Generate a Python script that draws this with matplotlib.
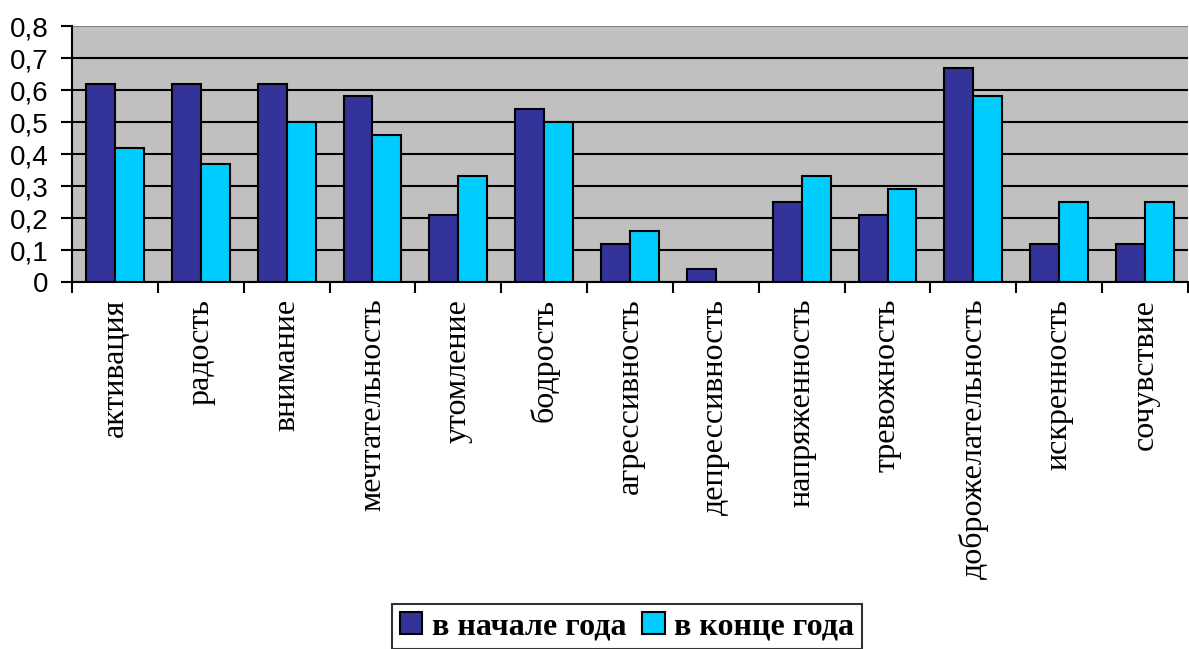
import matplotlib.pyplot as plt
import numpy as np
from matplotlib.ticker import FuncFormatter

categories = ['активация', 'радость', 'внимание', 'мечтательность', 'утомление',
              'бодрость', 'агрессивность', 'депрессивность', 'напряженность',
              'тревожность', 'доброжелательность', 'искренность', 'сочувствие']
start_year = [0.62, 0.62, 0.62, 0.58, 0.21, 0.54, 0.12, 0.04, 0.25, 0.21, 0.67, 0.12, 0.12]
end_year = [0.42, 0.37, 0.50, 0.46, 0.33, 0.50, 0.16, 0.0, 0.33, 0.29, 0.58, 0.25, 0.25]
series_names = ['в начале года', 'в конце года']

W, H = 1189, 649
fig = plt.figure(figsize=(W / 100, H / 100), dpi=100)
ax = fig.add_axes([72 / W, 1 - 282 / H, (1188 - 72) / W, (282 - 26) / H])
ax.set_facecolor('#C0C0C0')

x = np.arange(len(categories))
bw = 0.337
ax.bar(x - bw / 2, start_year, bw, color='#333399', edgecolor='black', linewidth=1.5,
       label=series_names[0], zorder=3)
end_heights = [v if v > 0 else np.nan for v in end_year]
ax.bar(x + bw / 2, end_heights, bw, color='#00CCFF', edgecolor='black', linewidth=1.5,
       label=series_names[1], zorder=3)

ax.set_xlim(-0.5, len(categories) - 0.5)
ax.set_ylim(0, 0.8)
ax.set_yticks(np.arange(0, 0.81, 0.1))
ax.yaxis.set_major_formatter(FuncFormatter(
    lambda v, p: '0' if abs(v) < 1e-9 else f'{v:.1f}'.replace('.', ',')))
ax.grid(axis='y', color='black', linewidth=1.5, zorder=1)
ax.yaxis.get_gridlines()[-1].set_color('#808080')

for side in ['top', 'right']:
    ax.spines[side].set_visible(False)
ax.spines['left'].set_linewidth(1.5)
ax.spines['bottom'].set_linewidth(1.5)

ax.set_xticks(x)
ax.set_xticklabels(categories, rotation=90, family='Liberation Serif', fontsize=23)
ax.set_xticks(np.arange(-0.5, len(categories), 1), minor=True)
ax.tick_params(axis='x', which='major', length=0, pad=12)
ax.tick_params(axis='x', which='minor', length=8, width=1.5, direction='out')
ax.tick_params(axis='y', length=8, width=1.5, direction='out', pad=9)
for lbl in ax.get_yticklabels():
    lbl.set_family('Liberation Sans')
    lbl.set_fontsize(20)

leg = fig.legend(loc='upper center', bbox_to_anchor=(627 / W, 1 - 604 / H), ncol=2,
                 prop={'family': 'Liberation Serif', 'weight': 'bold', 'size': 23},
                 frameon=True, fancybox=False, edgecolor='black', handlelength=0.7,
                 handleheight=0.7, handletextpad=0.3, columnspacing=0.5,
                 borderpad=0.25, borderaxespad=0)
leg.get_frame().set_linewidth(1.5)

fig.savefig('out.png', dpi=100)
